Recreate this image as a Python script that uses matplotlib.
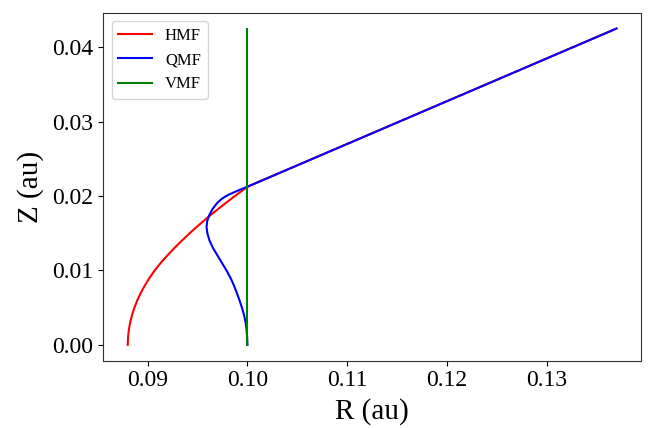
import matplotlib
matplotlib.use("Agg")
import matplotlib.pyplot as plt

# HMF (red)
hmf_z = [0.0000, 0.0010, 0.0020, 0.0030, 0.0040, 0.0050, 0.0060, 0.0070, 0.0080, 0.0090,
         0.0100, 0.0110, 0.0120, 0.0130, 0.0140, 0.0150, 0.0160, 0.0170, 0.0180, 0.0190,
         0.0200, 0.0207, 0.02125, 0.0425]
hmf_r = [0.08800, 0.08803, 0.08811, 0.08824, 0.08843, 0.08867, 0.08896, 0.08931, 0.08972, 0.09018,
         0.09070, 0.09130, 0.09196, 0.09267, 0.09342, 0.09421, 0.09504, 0.09591, 0.09682, 0.09777,
         0.09874, 0.09945, 0.10000, 0.13700]

# QMF (blue)
qmf_z = [0.0000, 0.0010, 0.0020, 0.0030, 0.0040, 0.0050, 0.0060, 0.0070, 0.0080, 0.0090,
         0.0100, 0.0110, 0.0120, 0.0130, 0.0140, 0.0150, 0.0158, 0.0166, 0.0174, 0.0182,
         0.0190, 0.0196, 0.0201, 0.0205, 0.0209, 0.02125, 0.0425]
qmf_r = [0.10000, 0.09997, 0.09991, 0.09982, 0.09966, 0.09945, 0.09920, 0.09893, 0.09864, 0.09830,
         0.09790, 0.09745, 0.09700, 0.09655, 0.09620, 0.09598, 0.09590, 0.09596, 0.09616, 0.09648,
         0.09692, 0.09740, 0.09800, 0.09865, 0.09935, 0.10000, 0.13700]

# VMF (green)
vmf_z = [0.0, 0.0425]
vmf_r = [0.10, 0.10]

x_ticks = [0.09, 0.10, 0.11, 0.12, 0.13]
y_ticks = [0.00, 0.01, 0.02, 0.03, 0.04]

plt.rcParams['font.family'] = ['Liberation Serif', 'DejaVu Serif']

fig = plt.figure(figsize=(6.49, 4.28), dpi=100)
ax = fig.add_axes([103.3 / 649, (428 - 360.7) / 428, (641 - 103.3) / 649, (360.7 - 12.7) / 428])

ax.plot(hmf_r, hmf_z, color='red', lw=1.5, label='HMF')
ax.plot(qmf_r, qmf_z, color='blue', lw=1.5, label='QMF')
ax.plot(vmf_r, vmf_z, color='green', lw=1.5, label='VMF')

ax.set_xticks(x_ticks)
ax.set_xticklabels([f"{v:.2f}" for v in x_ticks])
ax.set_yticks(y_ticks)
ax.set_yticklabels([f"{v:.2f}" for v in y_ticks])
ax.tick_params(labelsize=17)
ax.set_xlabel('R (au)', fontsize=21, labelpad=5)
ax.set_ylabel('Z (au)', fontsize=21, labelpad=6)
for s in ax.spines.values():
    s.set_color('#333333')

ax.legend(loc='upper left', fontsize=12)

fig.savefig('out.png', dpi=100)
